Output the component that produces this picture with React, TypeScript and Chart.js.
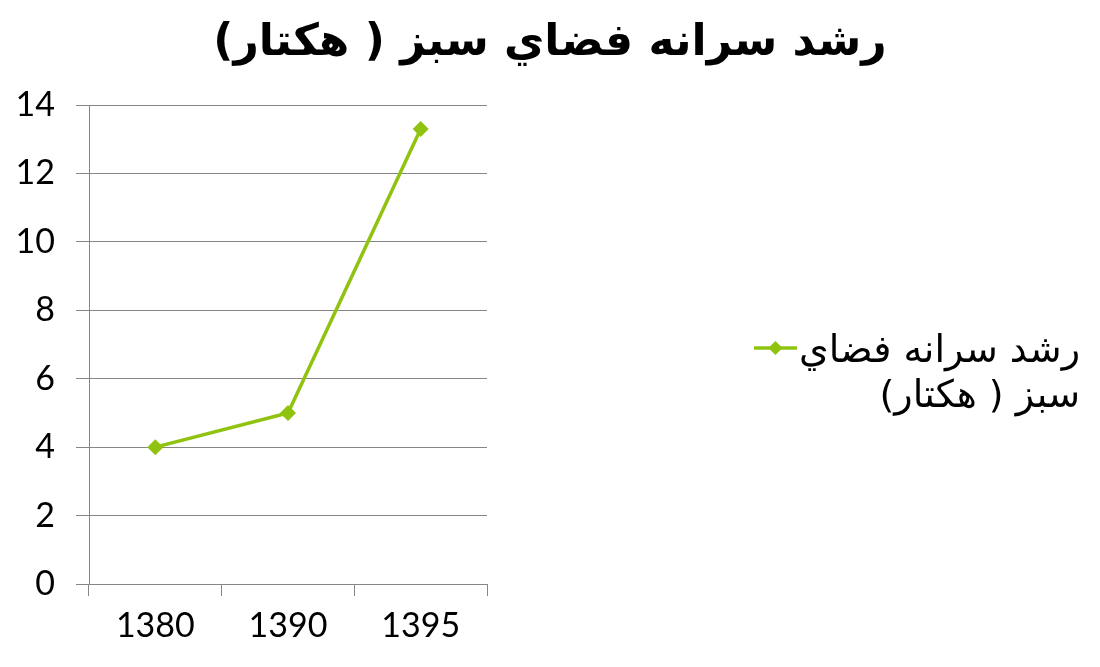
import React, { useEffect, useRef } from "react";
import { Chart, registerables } from "chart.js";

Chart.register(...registerables);

const categories = ["1380", "1390", "1395"];
const seriesValues = [4, 5, 13.3];
const seriesName = ["رشد سرانه فضاي", "سبز ( هكتار)"];
const titleText = "رشد سرانه فضاي سبز ( هكتار)";
const yTicks = [0, 2, 4, 6, 8, 10, 12, 14];

const GREEN = "#8FC30F";
const GRID = "#868686";

const textPlugin = {
  id: "titleAndLegend",
  afterDraw(chart: any) {
    const ctx = chart.ctx as CanvasRenderingContext2D;
    const W = chart.width;
    ctx.save();
    // title
    ctx.direction = "rtl";
    ctx.font = 'bold 44px "DejaVu Sans"';
    ctx.fillStyle = "#000";
    ctx.textAlign = "center";
    ctx.textBaseline = "middle";
    ctx.fillText(titleText, W / 2, 44);
    // legend
    const rightX = W - 20;
    const lineH = 45;
    const y1 = 352;
    ctx.font = '38px "DejaVu Sans"';
    ctx.textAlign = "right";
    ctx.textBaseline = "middle";
    seriesName.forEach((t, i) => ctx.fillText(t, rightX, y1 + i * lineH));
    const w1 = ctx.measureText(seriesName[0]).width;
    const lx2 = rightX - w1 - 2;
    const lx1 = lx2 - 43;
    const ly = y1 - 4;
    ctx.strokeStyle = GREEN;
    ctx.lineWidth = 3.5;
    ctx.beginPath();
    ctx.moveTo(lx1, ly);
    ctx.lineTo(lx2, ly);
    ctx.stroke();
    const cx = (lx1 + lx2) / 2;
    const r = 7;
    ctx.fillStyle = GREEN;
    ctx.beginPath();
    ctx.moveTo(cx, ly - r);
    ctx.lineTo(cx + r, ly);
    ctx.lineTo(cx, ly + r);
    ctx.lineTo(cx - r, ly);
    ctx.closePath();
    ctx.fill();
    ctx.restore();
  },
};

export default function App() {
  const ref = useRef<HTMLCanvasElement | null>(null);
  useEffect(() => {
    if (!ref.current) return;
    const chart = new Chart(ref.current, {
      type: "line",
      data: {
        labels: categories,
        datasets: [
          {
            label: seriesName.join(" "),
            data: seriesValues,
            borderColor: GREEN,
            backgroundColor: GREEN,
            borderWidth: 3.5,
            pointStyle: "rectRot",
            pointRadius: 8,
            pointBorderWidth: 0,
            tension: 0,
          },
        ],
      },
      options: {
        responsive: false,
        animation: false,
        devicePixelRatio: 1,
        layout: { padding: { left: 0, right: 613, top: 105, bottom: 0 } },
        plugins: {
          legend: { display: false },
          tooltip: { enabled: false },
          title: { display: false },
        },
        scales: {
          x: {
            type: "category",
            offset: true,
            grid: {
              display: true,
              drawOnChartArea: false,
              drawTicks: true,
              tickLength: 12,
              color: GRID,
              offset: true,
            },
            border: { display: true, color: GRID },
            ticks: {
              color: "#000",
              font: { family: "Lato", size: 34 },
              padding: 10,
              maxRotation: 0,
            },
            afterFit: (s: any) => {
              s.height = 83;
            },
          },
          y: {
            min: 0,
            max: 14,
            afterBuildTicks: (s: any) => {
              s.ticks = yTicks.map((v) => ({ value: v }));
            },
            grid: { color: GRID, tickLength: 13 },
            border: { display: true, color: GRID },
            ticks: {
              color: "#000",
              font: { family: "Lato", size: 34 },
              padding: 21,
            },
            afterFit: (s: any) => {
              s.width = 89;
            },
          },
        },
      },
      plugins: [textPlugin],
    });
    return () => chart.destroy();
  }, []);
  return (
    <div style={{ position: "fixed", left: 0, top: 0, width: 1100, height: 667, background: "#fff" }}>
      <canvas ref={ref} width={1100} height={667} style={{ display: "block" }} />
    </div>
  );
}
